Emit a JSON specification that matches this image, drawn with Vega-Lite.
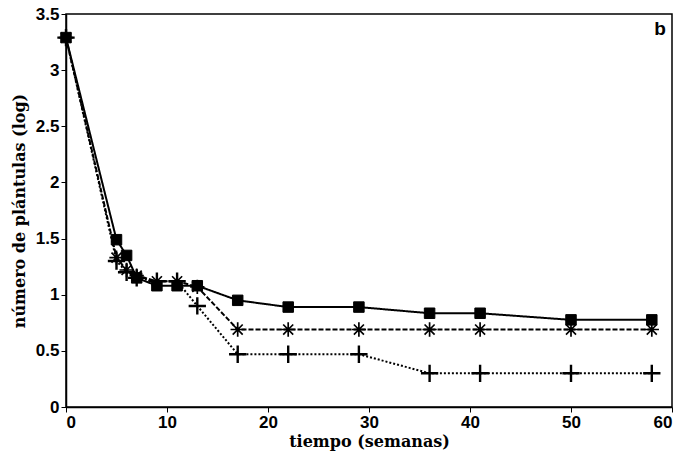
{
  "$schema": "https://vega.github.io/schema/vega-lite/v6.json",
  "width": 606,
  "height": 393,
  "autosize": {"type": "none"},
  "padding": {"left": 66, "top": 14, "right": 11, "bottom": 53},
  "background": "white",
  "config": {
    "view": {"stroke": "black", "strokeWidth": 1.5},
    "axis": {
      "grid": false,
      "domainColor": "black",
      "domainWidth": 1.5,
      "tickColor": "black",
      "tickSize": 5,
      "labelFont": "Liberation Sans",
      "labelFontWeight": "bold",
      "labelFontSize": 17,
      "labelColor": "black",
      "titleFont": "DejaVu Serif",
      "titleFontWeight": "bold",
      "titleFontSize": 16,
      "titleColor": "black"
    }
  },
  "data": {
    "values": [
      {"serie": "A", "t": 0, "v": 3.29},
      {"serie": "A", "t": 5, "v": 1.49},
      {"serie": "A", "t": 6, "v": 1.35},
      {"serie": "A", "t": 7, "v": 1.15},
      {"serie": "A", "t": 9, "v": 1.08},
      {"serie": "A", "t": 11, "v": 1.08},
      {"serie": "A", "t": 13, "v": 1.08},
      {"serie": "A", "t": 17, "v": 0.95},
      {"serie": "A", "t": 22, "v": 0.89},
      {"serie": "A", "t": 29, "v": 0.89},
      {"serie": "A", "t": 36, "v": 0.835},
      {"serie": "A", "t": 41, "v": 0.835},
      {"serie": "A", "t": 50, "v": 0.776},
      {"serie": "A", "t": 58, "v": 0.776},
      {"serie": "B", "t": 0, "v": 3.29},
      {"serie": "B", "t": 5, "v": 1.33},
      {"serie": "B", "t": 6, "v": 1.22},
      {"serie": "B", "t": 7, "v": 1.17},
      {"serie": "B", "t": 9, "v": 1.12},
      {"serie": "B", "t": 11, "v": 1.12},
      {"serie": "B", "t": 13, "v": 1.07},
      {"serie": "B", "t": 17, "v": 0.69},
      {"serie": "B", "t": 22, "v": 0.69},
      {"serie": "B", "t": 29, "v": 0.69},
      {"serie": "B", "t": 36, "v": 0.69},
      {"serie": "B", "t": 41, "v": 0.69},
      {"serie": "B", "t": 50, "v": 0.69},
      {"serie": "B", "t": 58, "v": 0.69},
      {"serie": "C", "t": 0, "v": 3.29},
      {"serie": "C", "t": 5, "v": 1.3},
      {"serie": "C", "t": 6, "v": 1.2},
      {"serie": "C", "t": 7, "v": 1.15},
      {"serie": "C", "t": 9, "v": 1.12},
      {"serie": "C", "t": 11, "v": 1.12},
      {"serie": "C", "t": 13, "v": 0.9},
      {"serie": "C", "t": 17, "v": 0.47},
      {"serie": "C", "t": 22, "v": 0.47},
      {"serie": "C", "t": 29, "v": 0.47},
      {"serie": "C", "t": 36, "v": 0.3},
      {"serie": "C", "t": 41, "v": 0.3},
      {"serie": "C", "t": 50, "v": 0.3},
      {"serie": "C", "t": 58, "v": 0.3}
    ]
  },
  "layer": [
    {
      "mark": {"type": "line", "color": "black", "strokeWidth": 2},
      "encoding": {
        "x": {"field": "t", "type": "quantitative", "scale": {"domain": [0, 60]}, "axis": {"values": [0, 10, 20, 30, 40, 50, 60], "title": "tiempo (semanas)", "titlePadding": 3, "labelPadding": 2}},
        "y": {"field": "v", "type": "quantitative", "scale": {"domain": [0, 3.5]}, "axis": {"values": [0, 0.5, 1, 1.5, 2, 2.5, 3, 3.5], "labelExpr": "toString(datum.value)", "title": "número de plántulas (log)", "titlePadding": 8, "labelPadding": 2}},
        "strokeDash": {"field": "serie", "type": "nominal", "scale": {"domain": ["A", "B", "C"], "range": [[1, 0], [5, 2], [2, 2]]}, "legend": null},
        "detail": {"field": "serie"}
      }
    },
    {
      "mark": {"type": "point", "filled": true, "color": "black", "stroke": "black", "opacity": 1},
      "encoding": {
        "x": {"field": "t", "type": "quantitative"},
        "y": {"field": "v", "type": "quantitative"},
        "shape": {"field": "serie", "type": "nominal", "scale": {"domain": ["A", "B", "C"], "range": ["square", "M-1,0L1,0M0,-1L0,1M-0.7,-0.7L0.7,0.7M-0.7,0.7L0.7,-0.7", "M-1,0L1,0M0,-1L0,1"]}, "legend": null},
        "size": {"field": "serie", "type": "nominal", "scale": {"domain": ["A", "B", "C"], "range": [110, 300, 110]}, "legend": null},
        "strokeWidth": {"field": "serie", "type": "nominal", "scale": {"domain": ["A", "B", "C"], "range": [1, 2.4, 3.5]}, "legend": null}
      }
    },
    {
      "data": {"values": [{"t": 59.4, "v": 3.37, "lab": "b"}]},
      "mark": {"type": "text", "align": "right", "baseline": "middle", "font": "Liberation Sans", "fontWeight": "bold", "fontSize": 19, "color": "black"},
      "encoding": {
        "x": {"field": "t", "type": "quantitative"},
        "y": {"field": "v", "type": "quantitative"},
        "text": {"field": "lab"}
      }
    }
  ]
}
